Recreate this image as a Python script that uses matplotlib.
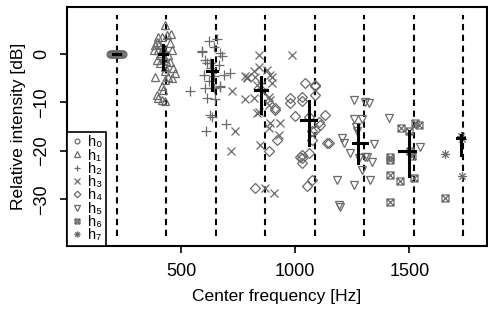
import numpy as np
import matplotlib
matplotlib.use("Agg")
import matplotlib.pyplot as plt
from matplotlib.path import Path
from matplotlib.lines import Line2D

plt.rcParams['font.family'] = ['Liberation Sans', 'DejaVu Sans']

# harmonic positions (f0 = 217 Hz)
harm_f = [217, 434, 651, 868, 1085, 1302, 1519, 1736]

# scatter values per harmonic: frequency [Hz], relative intensity [dB]
h0_f = [190, 194, 198, 202, 206, 210, 214, 218, 222, 226, 230, 234, 238, 242, 246]
h0_db = [0] * len(h0_f)

h1_f = [430, 455, 400, 415, 437, 386, 393, 452, 459, 379, 400, 408, 444, 393, 452,
        408, 430, 466, 474, 386, 444, 459, 430, 415, 422, 393, 400, 415, 430,
        420, 425, 412, 435, 405, 428]
h1_db = [6.0, 4.1, 3.6, 3.6, 3.9, 1.9, 2.5, 2.2, 0.8, 0.8, 0.8, -0.2, -0.2, -1.2, -1.6,
         -1.9, -2.6, -3.0, -4.0, -4.7, -4.7, -5.0, -5.4, -6.7, -7.4, -8.5, -9.1, -9.5, -9.8,
         1.2, -0.8, 0.3, -1.5, 2.0, -3.5]

h2_f = [539, 591, 620, 657, 642, 671, 605, 627, 664, 598, 715, 605, 642, 671, 613,
        649, 627, 635, 697, 610, 591, 678, 613, 686, 671, 630, 645, 620]
h2_db = [-7.6, 0.7, 2.7, 3.1, 1.5, 0.3, -1.2, -1.9, -2.3, -4.3, -3.9, -7.1, -7.1, -6.9, -9.1,
         -9.3, -12.6, -13.1, -14.4, -15.8, 0.5, -0.5, -1.9, -4.3, -6.7, -3.0, -4.5, -5.5]

h3_f = [781, 825, 722, 781, 737, 718, 839, 985, 839, 788, 818, 876, 898, 818, 890,
        839, 890, 934, 883, 927, 846, 832, 868, 905, 890, 788, 832, 898, 883, 883, 850, 860]
h3_db = [-4.5, -4.8, -7.6, -9.3, -15.8, -20.1, -0.2, -0.2, -2.6, -4.7, -3.6, -3.3, -4.7, -9.1, -9.5,
         -11.9, -14.3, -14.3, -15.3, -16.7, -18.8, -12.2, -27.7, -28.7, -4.3, -5.0, -6.4, -6.0,
         -8.8, -10.5, -6.5, -7.8]

h4_f = [978, 975, 1029, 1044, 1088, 1088, 1029, 1000, 1132, 1110, 1139, 1073, 912, 920, 1029,
        1058, 883, 1029, 1029, 1073, 1051, 825, 1088, 912, 1102, 1088, 1146, 1022, 1060, 1075]
h4_db = [-9.1, -10.2, -8.8, -6.0, -6.6, -8.5, -9.8, -12.9, -12.6, -14.6, -18.4, -17.7, -11.2, -17.7, -20.8,
         -20.5, -20.1, -21.5, -22.5, -26.0, -27.2, -27.7, -6.4, -11.5, -14.0, -15.7, -18.4, -21.2, -13.0, -16.0]

h5_f = [1256, 1307, 1322, 1409, 1256, 1292, 1270, 1205, 1241, 1307, 1344, 1548,
        1213, 1278, 1314, 1336, 1292, 1183, 1256, 1329, 1190, 1197, 1265]
h5_db = [-9.5, -10.0, -10.2, -13.3, -13.5, -13.5, -16.0, -17.4, -20.5, -21.2, -18.6, -19.1,
         -18.4, -21.5, -21.2, -22.2, -23.9, -26.0, -27.0, -26.0, -31.1, -31.5, -15.0]

h6_f = [1461, 1541, 1526, 1497, 1417, 1504, 1417, 1417, 1457, 1518, 1511, 1414, 1658]
h6_db = [-15.3, -14.6, -14.3, -16.0, -21.3, -20.1, -21.9, -24.9, -26.3, -25.6, -21.0, -30.5, -29.8]

h7_f = [1724, 1731, 1658, 1731]
h7_db = [-17.0, -17.6, -20.6, -25.2]

# black crosses: centre and extent in frequency and intensity
cross_f = [217, 420, 636, 849, 1058, 1275, 1497, 1726]
cross_f_lo = [203, 402, 614, 825, 1025, 1253, 1453, 1709]
cross_f_hi = [231, 437, 658, 876, 1090, 1314, 1526, 1738]
cross_db = [0, -0.1, -3.6, -7.4, -13.6, -18.4, -20.1, -17.4]
cross_db_lo = [0, -3.1, -7.5, -12.2, -18.8, -22.5, -25.2, -20.8]
cross_db_hi = [0, 1.9, -1.2, -4.8, -9.8, -14.6, -16.0, -16.7]

labels = ['h₀', 'h₁', 'h₂', 'h₃', 'h₄', 'h₅', 'h₆', 'h₇']

# boxed x (R pch 7)
boxx = Path([(-1, -1), (1, -1), (1, 1), (-1, 1), (-1, -1), (-1, -1), (1, 1), (-1, 1), (1, -1)],
            [Path.MOVETO, Path.LINETO, Path.LINETO, Path.LINETO, Path.CLOSEPOLY,
             Path.MOVETO, Path.LINETO, Path.MOVETO, Path.LINETO])
# asterisk (R pch 8)
r = 0.7071
aster = Path([(-1, 0), (1, 0), (0, -1), (0, 1), (-r, -r), (r, r), (-r, r), (r, -r)],
             [Path.MOVETO, Path.LINETO] * 4)

markers = ['o', '^', '+', 'x', 'D', 'v', boxx, aster]
sizes = [5, 5.8, 6.5, 5.5, 4.8, 5.8, 5, 6.5]
grey = '#6a6a6a'

series_f = [h0_f, h1_f, h2_f, h3_f, h4_f, h5_f, h6_f, h7_f]
series_db = [h0_db, h1_db, h2_db, h3_db, h4_db, h5_db, h6_db, h7_db]

fig = plt.figure(figsize=(4.89, 3.16), dpi=100)
ax = fig.add_axes([0.137, 0.222, 0.859, 0.756])

ax.vlines(harm_f, -37.5, 8, colors='black', linestyles=(0, (3, 2.2)), linewidth=1.5, zorder=1)

handles = []
for f, d, m, s, lab in zip(series_f, series_db, markers, sizes, labels):
    ax.plot(f, d, linestyle='none', marker=m, markersize=s, markerfacecolor='none',
            markeredgecolor=grey, markeredgewidth=0.9, zorder=2)
    handles.append(Line2D([], [], linestyle='none', marker=m, markersize=s * 0.7,
                          markerfacecolor='none', markeredgecolor=grey,
                          markeredgewidth=0.9, label=lab))

for i in range(len(cross_f)):
    ax.plot([cross_f_lo[i], cross_f_hi[i]], [cross_db[i], cross_db[i]], color='black', lw=2.2, zorder=3)
    ax.plot([cross_f[i], cross_f[i]], [cross_db_lo[i], cross_db_hi[i]], color='black', lw=2.2, zorder=3)

ax.set_xlim(0, 1840)
ax.set_ylim(-39.6, 9.7)
ax.set_xticks([500, 1000, 1500])
ax.set_yticks([0, -10, -20, -30])
ax.tick_params(direction='out', length=5, width=1.2, labelsize=13, pad=7)
for t in ax.get_yticklabels():
    t.set_rotation(90)
    t.set_va('center')
for sp in ax.spines.values():
    sp.set_linewidth(1.5)

ax.set_xlabel('Center frequency [Hz]', fontsize=12.5, labelpad=7)
ax.set_ylabel('Relative intensity [dB]', fontsize=12.5, labelpad=5)

leg = ax.legend(handles=handles, loc='lower left', borderaxespad=0, fontsize=10.5,
                labelspacing=-0.05, handlelength=0.9, handletextpad=0.3, borderpad=0.25,
                fancybox=False, framealpha=1, edgecolor='black')
leg.get_frame().set_linewidth(1.2)

fig.savefig('out.png', dpi=100)
